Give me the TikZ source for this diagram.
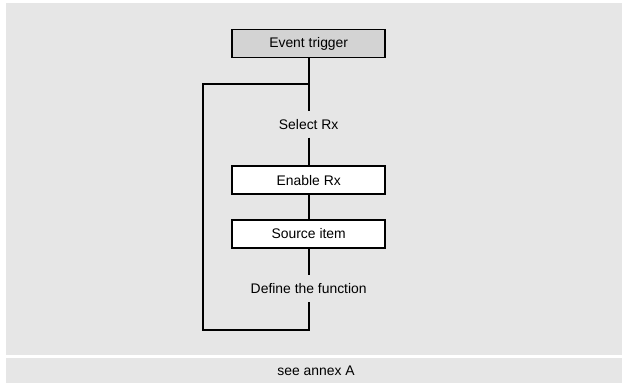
\documentclass[tikz,border=0pt]{standalone}
\usepackage{fontspec}
\setmainfont{Liberation Sans}
\usepackage{tikz}
\usetikzlibrary{positioning}
\definecolor{panelgray}{HTML}{E6E6E6}
\definecolor{triggergray}{HTML}{D3D3D3}

\begin{document}
\begin{tikzpicture}[
  x=1pt, y=-1pt,
  font=\fontsize{13.9}{16}\selectfont,
  blk/.style={draw, line width=1.8pt, minimum width=153pt, minimum height=28pt, inner sep=0pt, fill=white},
  trg/.style={blk, fill=triggergray},
  lbl/.style={inner sep=0pt, minimum height=26pt},
  con/.style={line width=1.7pt}
]
\useasboundingbox (0,0) rectangle (622,383);

% Panels
\fill[panelgray] (6,3) rectangle (622,355);
\fill[panelgray] (6,358) rectangle (622,383);
\node (note) at (316,370.5) {see annex A};

% Flow column
\node[trg] (trigger) at (308.7,43.5) {Event trigger};
\node[lbl] (select)  at (308.7,124.3) {Select Rx};
\node[blk] (enable)  at (308.7,180.3) {Enable Rx};
\node[blk] (source)  at (308.7,234) {Source item};
\node[lbl, minimum height=27pt] (define) at (308.7,288.7) {Define the function};

\coordinate (looptop) at (308.7,84.3);
\coordinate (loopbot) at (308.7,330);

\draw[con] (trigger.south) -- (select.north);
\draw[con] (select.south) -- (enable.north);
\draw[con] (enable.south) -- (source.north);
\draw[con] (source.south) -- (define.north);
% loop back to the top
\draw[con] (define.south) -- (loopbot) -- ++(-106,0) |- (looptop);

\end{tikzpicture}
\end{document}
